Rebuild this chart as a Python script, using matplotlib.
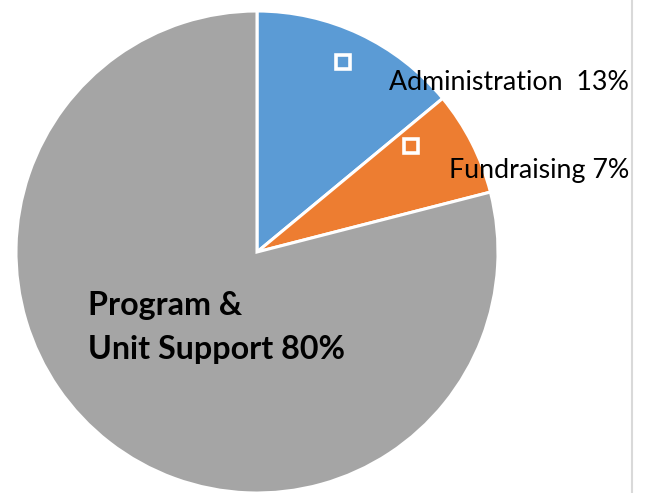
import matplotlib
matplotlib.use("Agg")
import matplotlib.pyplot as plt

# slice data (shares, labels as printed)
categories = ["Administration", "Fundraising", "Program & Unit Support"]
shares = [14, 7, 79]
label_texts = ["Administration  13%", "Fundraising 7%", "Program &\nUnit Support 80%"]
colors = ["#5B9BD5", "#ED7D31", "#A5A5A5"]

W, H = 646, 493
CX, CY, R = 257, 252, 241   # pie centre / radius in image pixels


def img_y(y):
    """image pixel row -> data y (y axis points up)"""
    return H - y


fig = plt.figure(figsize=(W / 100, H / 100), dpi=100)
ax = fig.add_axes([0, 0, 1, 1])

ax.pie(shares, colors=colors, startangle=90, counterclock=False,
       center=(CX, img_y(CY)), radius=R,
       wedgeprops=dict(edgecolor="white", linewidth=2.2))

ax.set_xlim(0, W)
ax.set_ylim(0, H)
ax.set_aspect("equal")
ax.axis("off")

# small marker squares on the two thin slices
ax.plot([343], [img_y(62)], marker="s", ms=9.5, mew=2.6,
        mfc=colors[0], mec="white", zorder=5)
ax.plot([411], [img_y(146)], marker="s", ms=9.5, mew=2.6,
        mfc=colors[1], mec="white", zorder=5)

font = "Lato"
ax.text(389, img_y(90), label_texts[0], ha="left", va="baseline",
        fontsize=19.3, family=font, color="black")
ax.text(449, img_y(178), label_texts[1], ha="left", va="baseline",
        fontsize=19.3, family=font, color="black")
prog1, prog2 = label_texts[2].split("\n")
ax.text(88, img_y(315), prog1, ha="left", va="baseline",
        fontsize=23.2, family=font, fontweight="bold", color="black")
ax.text(88, img_y(359), prog2, ha="left", va="baseline",
        fontsize=23.2, family=font, fontweight="bold", color="black")

# thin gray border line at the right
ax.plot([632, 632], [0, H], color="#D9D9D9", lw=1.5)

fig.savefig("out.png", dpi=100)
